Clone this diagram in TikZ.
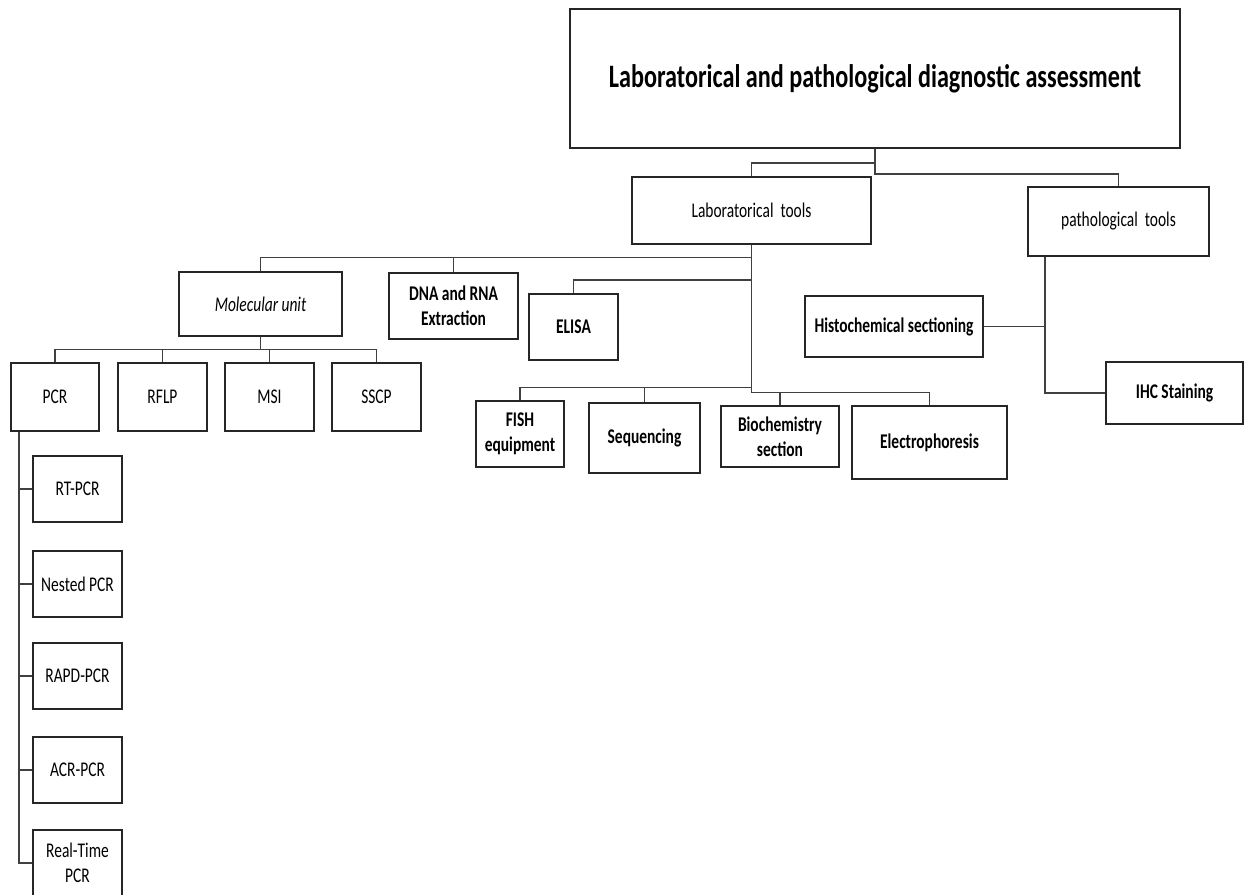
\documentclass[tikz,border=0pt]{standalone}
\usepackage{fontspec}
\setmainfont{Carlito}[FakeStretch=0.74]

\begin{document}
\begin{tikzpicture}[x=0.02cm, y=-0.02cm,
  box/.style={draw=black!85, line width=1.1pt, rectangle, inner sep=0pt, align=center, font=\fontsize{11.9}{14}\selectfont},
  boldbox/.style={box, font=\fontsize{11.9}{14}\selectfont\bfseries},
  link/.style={draw=black!75, line width=1.1pt}]
\useasboundingbox (0,0) rectangle (1244,894);
% top level
\node (top) at (875,78.5)[box, minimum width=12.2cm, minimum height=2.78cm, font=\fontsize{18.6}{22}\selectfont\bfseries]{Laboratorical and pathological diagnostic assessment};
\node (lab) at (751.5,210.5)[box, minimum width=4.78cm, minimum height=1.34cm]{Laboratorical~ tools};
\node (patho) at (1118.5,221.5)[box, minimum width=3.62cm, minimum height=1.38cm]{pathological~ tools};
% laboratorical tools
\node (molec) at (260.5,304)[box, minimum width=3.26cm, minimum height=1.28cm, font=\fontsize{11.9}{14}\selectfont\itshape]{Molecular unit};
\node (dna) at (453.5,306)[boldbox, minimum width=2.58cm, minimum height=1.32cm]{DNA and RNA\\Extraction};
\node (elisa) at (573.5,327)[boldbox, minimum width=1.78cm, minimum height=1.32cm]{ELISA};
\node (fish) at (520,434)[boldbox, minimum width=1.76cm, minimum height=1.32cm]{FISH\\equipment};
\node (seq) at (644.5,438)[boldbox, minimum width=2.22cm, minimum height=1.4cm]{Sequencing};
\node (bioch) at (780,436.5)[boldbox, minimum width=2.36cm, minimum height=1.22cm]{Biochemistry\\section};
\node (electro) at (929.5,442.5)[boldbox, minimum width=3.1cm, minimum height=1.46cm]{Electrophoresis};
% molecular unit
\node (pcr) at (55,397)[box, minimum width=1.76cm, minimum height=1.36cm]{PCR};
\node (rflp) at (162.5,397)[box, minimum width=1.78cm, minimum height=1.36cm]{RFLP};
\node (msi) at (269.5,397)[box, minimum width=1.78cm, minimum height=1.36cm]{MSI};
\node (sscp) at (376.5,397)[box, minimum width=1.78cm, minimum height=1.36cm]{SSCP};
% pcr types
\node (rt) at (77.5,489)[box, minimum width=1.78cm, minimum height=1.32cm]{RT-PCR};
\node (nested) at (77.5,584)[box, minimum width=1.78cm, minimum height=1.32cm]{Nested PCR};
\node (rapd) at (77.5,676)[box, minimum width=1.78cm, minimum height=1.32cm]{RAPD-PCR};
\node (acr) at (77.5,770)[box, minimum width=1.78cm, minimum height=1.32cm]{ACR-PCR};
\node (realtime) at (77.5,863)[box, minimum width=1.78cm, minimum height=1.32cm]{Real-Time\\PCR};
% pathological tools
\node (histo) at (894,326.5)[boldbox, minimum width=3.56cm, minimum height=1.22cm]{Histochemical sectioning};
\node (ihc) at (1174.5,393)[boldbox, minimum width=2.74cm, minimum height=1.24cm]{IHC Staining};
% links
\draw[link] (top.south) -- ++(0,14.5) -| (lab.north);
\draw[link] (top.south) -- ++(0,25) -| (patho.north);
\draw[link] (lab.south) -- ++(0,12.5) -| (molec.north);
\draw[link] (lab.south) -- ++(0,12.5) -| (dna.north);
\draw[link] (lab.south) -- ++(0,35) -| (elisa.north);
\draw[link] (lab.south) -- ++(0,142.5) -| (fish.north);
\draw[link] (lab.south) -- ++(0,142.5) -| (seq.north);
\draw[link] (lab.south) -- ++(0,147.5) -| (bioch.north);
\draw[link] (lab.south) -- ++(0,147.5) -| (electro.north);
\draw[link] (molec.south) -- ++(0,12.5) -| (pcr.north);
\draw[link] (molec.south) -- ++(0,12.5) -| (rflp.north);
\draw[link] (molec.south) -- ++(0,12.5) -| (msi.north);
\draw[link] (molec.south) -- ++(0,12.5) -| (sscp.north);
\draw[link] ([xshift=0.18cm]pcr.south west) |- (rt.west);
\draw[link] ([xshift=0.18cm]pcr.south west) |- (nested.west);
\draw[link] ([xshift=0.18cm]pcr.south west) |- (rapd.west);
\draw[link] ([xshift=0.18cm]pcr.south west) |- (acr.west);
\draw[link] ([xshift=0.18cm]pcr.south west) |- (realtime.west);
\draw[link] ([xshift=0.36cm]patho.south west) |- (histo.east);
\draw[link] ([xshift=0.36cm]patho.south west) |- (ihc.west);
\end{tikzpicture}
\end{document}
